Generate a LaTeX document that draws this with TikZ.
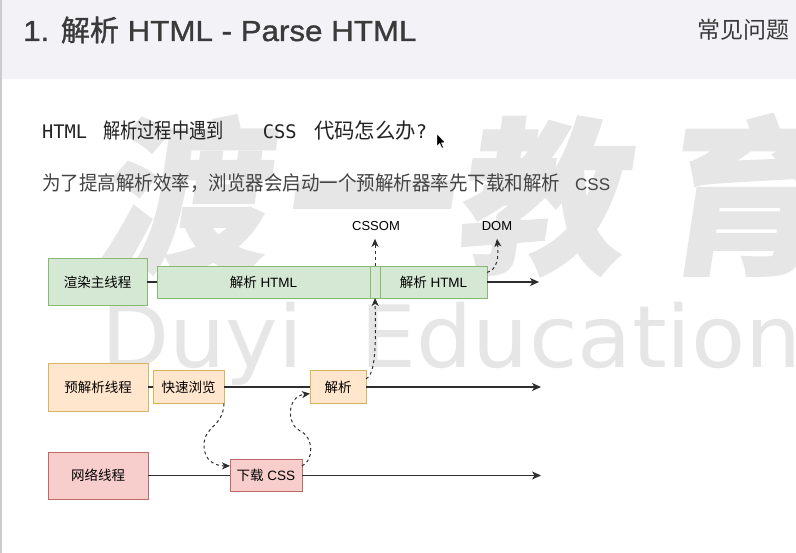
\documentclass[tikz,border=0pt]{standalone}
\usepackage{fontspec}
\setmainfont{Liberation Sans}
\setmonofont{DejaVu Sans Mono}
\newfontfamily\cjk{Noto Sans CJK SC}
\newfontfamily\cjknarrow[FakeStretch=0.82]{Noto Sans CJK SC}
\newfontfamily\cjkslim[FakeStretch=0.97]{Noto Sans CJK SC}
\newfontfamily\cjkline[FakeStretch=0.925]{Noto Sans CJK SC}
\newfontfamily\titlefont[FakeStretch=1.08,FakeBold=1.2]{Liberation Sans}
\newfontfamily\titlecjk[FakeBold=1.2]{Noto Sans CJK SC}
\newfontfamily\wmcjk[FakeSlant=0.15,FakeBold=1]{Noto Sans CJK SC}
\newfontfamily\wmlatin[FakeStretch=1.03]{DejaVu Sans}
\usetikzlibrary{arrows.meta,calc}

\newcommand{\zhtext}[1]{{\cjk #1}}

\definecolor{hdrbg}{HTML}{F3F3F7}
\definecolor{edgegray}{HTML}{CCCCCC}
\definecolor{ink}{HTML}{3A3A3A}
\definecolor{qone}{HTML}{222222}
\definecolor{qtwo}{HTML}{444444}
\definecolor{wmgray}{HTML}{E6E6E6}
\definecolor{flowink}{HTML}{2E2E2E}
\definecolor{gfill}{HTML}{D5E8D4}
\definecolor{gline}{HTML}{88B972}
\definecolor{ofill}{HTML}{FFE6CC}
\definecolor{oline}{HTML}{D8B45E}
\definecolor{rfill}{HTML}{F8CECC}
\definecolor{rline}{HTML}{BF6A66}

\tikzset{
  stagebox/.style={draw, line width=0.9pt, inner sep=0pt, outer sep=0pt,
    text=black, font=\fontsize{13.5}{14}\selectfont},
  gbox/.style={stagebox, fill=gfill, draw=gline},
  obox/.style={stagebox, fill=ofill, draw=oline},
  rbox/.style={stagebox, fill=rfill, draw=rline},
  lbl/.style={inner xsep=0pt, inner ysep=8pt, text=black,
    font=\fontsize{13}{13}\selectfont},
  flow/.style={draw=flowink, line width=1.2pt},
  flowtip/.style={flow, -{Stealth[length=9pt,width=8pt,inset=2.5pt]}},
  dashflow/.style={draw=flowink, line width=1pt, dash pattern=on 3pt off 3pt,
    -{Stealth[length=8pt,width=7pt,inset=2.2pt]}},
  wmtext/.style={inner sep=0pt, anchor=base west, text=wmgray}
}

\begin{document}
\begin{tikzpicture}[x=1pt,y=-1pt]
\useasboundingbox (0,0) rectangle (796,553);
\fill[white] (0,0) rectangle (796,553);
\fill[hdrbg] (0,0) rectangle (796,79);
\draw[edgegray, line width=2pt] (1,0) -- (1,553);

% faint watermark
\node[wmtext, font=\wmcjk\bfseries\fontsize{168}{168}\selectfont] (wmzh)
  at (96,260) {渡\hspace{16pt}一\hspace{6pt}教\hspace{36pt}育};
\node[wmtext, font=\wmlatin\fontsize{86}{86}\selectfont] (wmen)
  at (101,368) {Duyi\hspace{30pt} Education};

% header
\node[anchor=base west, inner sep=0pt, text=ink, font=\titlefont\fontsize{29}{30}\selectfont]
  (title) at (23,41) {1. {\titlecjk 解析} HTML - Parse HTML};
\node[anchor=base east, inner sep=0pt, text=ink, font=\fontsize{23}{23}\selectfont]
  (faq) at (790,39) {\zhtext{常见问题}};

% question and answer lines
\node[anchor=base west, inner sep=0pt, text=qone] (q1) at (42,138.5)
  {\ttfamily\fontsize{18.7}{19}\selectfont HTML\hspace{16pt}{\cjknarrow\fontsize{21}{21}\selectfont 解析过程中遇到}\hspace{39pt}CSS\hspace{17.5pt}{\cjkslim\fontsize{21}{21}\selectfont 代码怎么办}?};
\node[anchor=base west, inner sep=0pt, text=qtwo] (q2) at (42,191)
  {{\cjkline\fontsize{20}{20}\selectfont 为了提高解析效率，浏览器会启动一个预解析器率先下载和解析}\hspace{15pt}{\fontsize{17}{17}\selectfont CSS}};

% mouse pointer
\fill[black, draw=white, line width=0.3pt] (437,134) -- (437,146) -- (439.8,143.4)
  -- (441.8,148) -- (443.3,147.3) -- (441.3,142.8) -- (445,142.6) -- cycle;

% render main thread
\node[gbox, minimum width=99pt, minimum height=47pt] (main) at (97.5,282) {\zhtext{渲染主线程}};
\node[gbox, minimum width=213pt, minimum height=32pt] (p1) at (263.5,282) {\zhtext{解析} HTML};
\node[gbox, minimum width=10pt, minimum height=32pt] (ps) at (375,282) {};
\node[gbox, minimum width=107pt, minimum height=32pt] (p2) at (433.5,282) {\zhtext{解析} HTML};
\coordinate (mainend) at (539,282);
\draw[flow] (main) -- (p1);
\draw[flowtip] (p2) -- (mainend);

\node[lbl] (cssom) at (376,226) {CSSOM};
\node[lbl] (dom) at (497,226) {DOM};

% preparse thread
\node[obox, minimum width=100pt, minimum height=48pt] (pre) at (98,387) {\zhtext{预解析线程}};
\node[obox, minimum width=71pt, minimum height=33pt] (scan) at (188.5,387) {\zhtext{快速浏览}};
\node[obox, minimum width=56pt, minimum height=33pt] (parse) at (338,387) {\zhtext{解析}};
\coordinate (preend) at (541,387);
\draw[flow] (pre) -- (scan);
\draw[flow] (scan) -- (parse);
\draw[flowtip] (parse) -- (preend);

% network thread
\node[rbox, minimum width=100pt, minimum height=47pt] (net) at (98,475.5) {\zhtext{网络线程}};
\node[rbox, minimum width=72pt, minimum height=32pt] (dl) at (266,475.5) {\zhtext{下载} CSS};
\coordinate (netend) at (541,475.5);
\draw[flow] (net) -- (dl);
\draw[flowtip] (dl) -- (netend);

% hand-offs between threads
\coordinate (dlin) at ($(dl.north west)!0.2!(dl.south west)$);
\coordinate (dlout) at ($(dl.north east)!0.2!(dl.south east)$);
\coordinate (parsein) at ($(parse.north west)!0.7!(parse.south west)$);
\coordinate (parseout) at ($(parse.north east)!0.25!(parse.south east)$);
\coordinate (p2out) at ($(p2.north east)!0.2!(p2.south east)$);

\draw[dashflow] (scan.south east)
  .. controls ($(scan.south east)+(-1,24)$) and ($(scan.south east)+(-20,22)$) .. ($(scan.south east)+(-20,42)$)
  .. controls ($(scan.south east)+(-20,58)$) and ($(dlin)+(-14,0)$) .. (dlin);
\draw[dashflow] (dlout)
  .. controls ($(dlout)+(12,-5)$) and ($(dlout)+(12,-29)$) .. ($(dlout)+(-2,-35)$)
  .. controls ($(dlout)+(-15,-41)$) and ($(parsein)+(-24,3)$) .. (parsein);
\draw[dashflow] (parseout)
  .. controls ($(parseout)+(10,-4)$) and ($(ps.south)+(1,42)$) .. (ps.south);
\draw[dashflow] (ps.north) -- (ps.north |- cssom.south);
\draw[dashflow] (p2out)
  .. controls ($(p2out)+(10,-2)$) and ($(dom.south)+(2,18)$) .. (dom.south);
\end{tikzpicture}
\end{document}
